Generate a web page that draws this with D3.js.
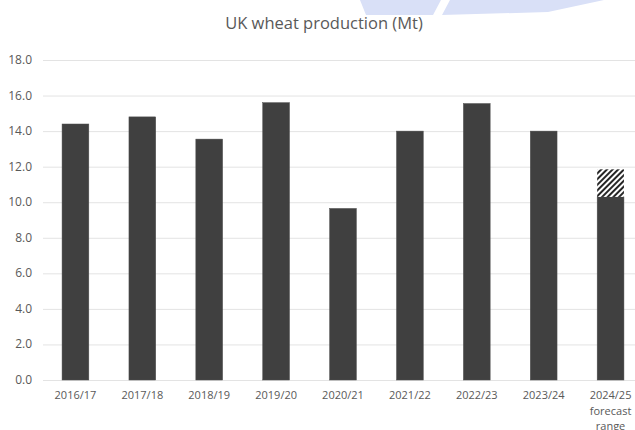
<!DOCTYPE html>
<meta charset="utf-8">
<style>
  body { margin: 0; background: #fff; }
  text { font-family: "Open Sans", sans-serif; }
</style>
<svg width="635" height="430"></svg>

<script src="https://d3js.org/d3.v7.min.js"></script>
<script>
// data
var years = ["2016/17", "2017/18", "2018/19", "2019/20", "2020/21", "2021/22", "2022/23", "2023/24", "2024/25"]
var production = [14.4, 14.8, 13.55, 15.6, 9.65, 14.0, 15.55, 14.0, 10.3]
var forecastTop = [null, null, null, null, null, null, null, null, 11.85]
var yTicks = [0, 2, 4, 6, 8, 10, 12, 14, 16, 18]

var svg = d3.select('svg')

// pale blue watermark at the top
svg.append('polygon')
  .attr('points', '360,0 441,0 433,15 366,15')
  .attr('fill', '#d9e0f7')
svg.append('polygon')
  .attr('points', '450,0 604,0 548,12 442,15')
  .attr('fill', '#d9e0f7')

var defs = svg.append('defs')
var pat = defs.append('pattern')
  .attr('id', 'hatch')
  .attr('patternUnits', 'userSpaceOnUse')
  .attr('width', 4).attr('height', 4)
  .attr('patternTransform', 'rotate(45)')
pat.append('rect').attr('width', 4).attr('height', 4).attr('fill', '#fff')
pat.append('rect').attr('width', 2).attr('height', 4).attr('fill', '#262626')

var x = d3.scaleBand()
  .domain(years)
  .range([42, 644])
  .paddingInner(0.6)
  .paddingOuter(0.3)

var y = d3.scaleLinear()
  .domain([0, 18])
  .range([380, 60])

// title
svg.append('text')
  .attr('x', 324).attr('y', 29)
  .attr('text-anchor', 'middle')
  .attr('font-size', 16.5)
  .attr('fill', '#595959')
  .text('UK wheat production (Mt)')

// gridlines
svg.append('g').selectAll('line')
  .data(yTicks)
  .join('line')
  .attr('x1', 43).attr('x2', 635)
  .attr('y1', function (d) { return y(d) + 0.5 })
  .attr('y2', function (d) { return y(d) + 0.5 })
  .attr('stroke', '#e3e3e3')
  .attr('stroke-width', 1)

// y labels
svg.append('g').selectAll('text')
  .data(yTicks)
  .join('text')
  .attr('x', 32).attr('y', function (d) { return y(d) + 4 })
  .attr('text-anchor', 'end')
  .attr('font-size', 12)
  .attr('fill', '#595959')
  .text(function (d) { return d3.format('.1f')(d) })

// bars
svg.append('g').selectAll('rect')
  .data(years)
  .join('rect')
  .attr('x', function (d) { return x(d) })
  .attr('width', x.bandwidth())
  .attr('y', function (d, i) { return y(production[i]) })
  .attr('height', function (d, i) { return y(0) - y(production[i]) })
  .attr('fill', '#404040')
  .attr('stroke', '#4d4d4d')
  .attr('stroke-width', 0.5)

// forecast range (hatched part)
svg.append('g').selectAll('rect')
  .data(years.filter(function (d, i) { return forecastTop[i] != null }))
  .join('rect')
  .attr('x', function (d) { return x(d) })
  .attr('width', x.bandwidth())
  .attr('y', function (d) { var i = years.indexOf(d); return y(forecastTop[i]) })
  .attr('height', function (d) { var i = years.indexOf(d); return y(production[i]) - y(forecastTop[i]) })
  .attr('fill', 'url(#hatch)')

// x labels
var xl = svg.append('g').selectAll('text')
  .data(years)
  .join('text')
  .attr('x', function (d) { return x(d) + x.bandwidth() / 2 })
  .attr('y', 399)
  .attr('text-anchor', 'middle')
  .attr('font-size', 11)
  .attr('fill', '#595959')
xl.append('tspan').text(function (d) { return d })
xl.filter(function (d, i) { return i === years.length - 1 })
  .each(function () {
    var t = d3.select(this)
    var cx = t.attr('x')
    t.append('tspan').attr('x', cx).attr('dy', 15.5).text('forecast')
    t.append('tspan').attr('x', cx).attr('dy', 15.5).text('range')
  })
</script>
